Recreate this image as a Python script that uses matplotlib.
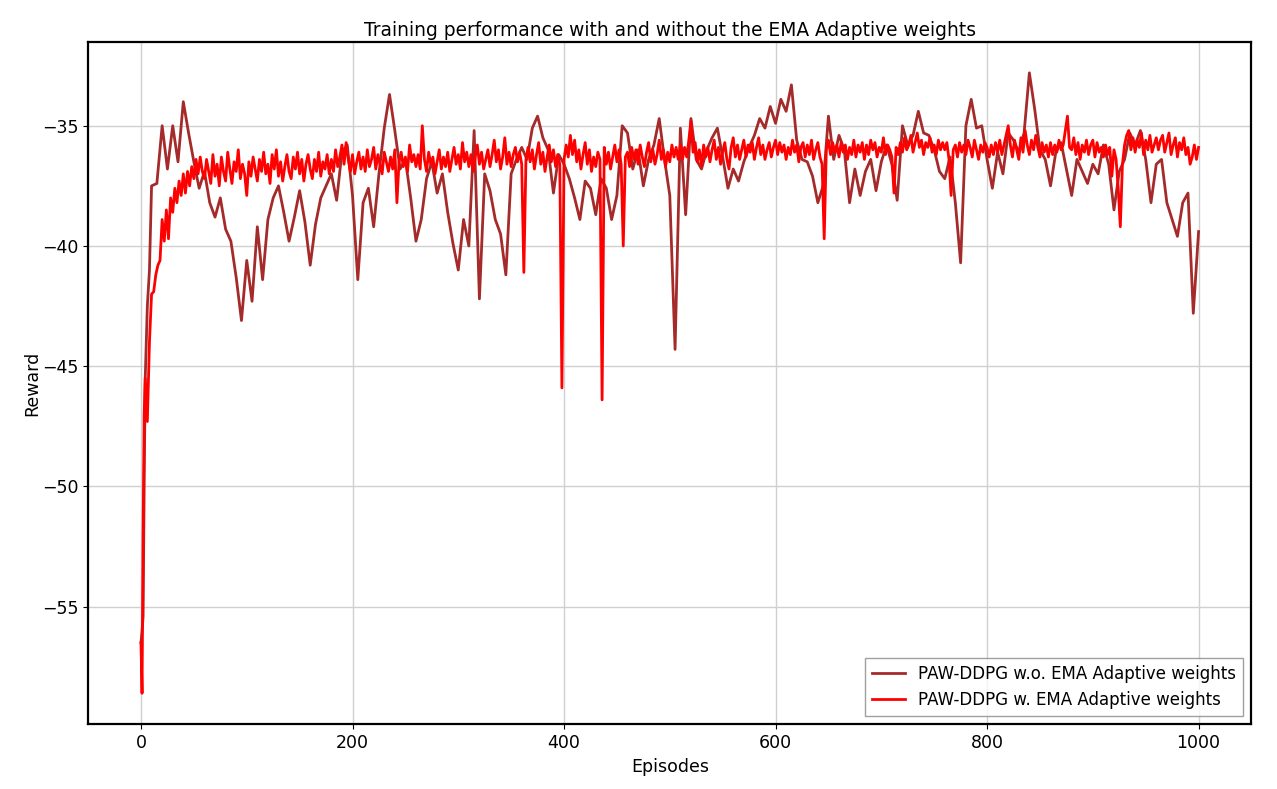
import numpy as np
import matplotlib
matplotlib.use('Agg')
import matplotlib.pyplot as plt

# 序盤は細かく、以降は一定刻み
episodes_start = [0, 1, 2, 3, 4, 6, 8]
episodes_wo_rest = list(range(10, 1001, 5))
episodes_w_rest = list(range(10, 1001, 2))

# EMAなし
reward_wo_start = [-56.5, -56.0, -55.4, -50.0, -45.5, -42.5, -41.0]
reward_wo_rest = [
    -37.5, -37.4, -35.0, -36.8, -35.0, -36.5, -34.0, -35.3, -36.5, -37.6,
    -36.9, -38.2, -38.8, -38.0, -39.3, -39.8, -41.3, -43.1, -40.6, -42.3,
    -39.2, -41.4, -38.9, -38.0, -37.5, -38.6, -39.8, -38.8, -37.7, -39.0,
    -40.8, -39.1, -38.0, -37.5, -37.0, -38.1, -36.1, -35.8, -37.9, -41.4,
    -38.2, -37.6, -39.2, -37.0, -35.1, -33.7, -35.2, -36.8, -36.4, -38.0,
    -39.8, -38.9, -37.2, -36.5, -37.8, -37.0, -38.6, -39.9, -41.0, -38.9,
    -40.0, -35.2, -42.2, -37.0, -37.7, -38.9, -39.5, -41.2, -37.0, -36.4,
    -35.9, -36.4, -35.1, -34.6, -35.5, -36.0, -37.8, -36.2, -36.6, -37.2,
    -38.0, -38.9, -37.3, -37.6, -38.7, -37.2, -37.6, -38.9, -37.9, -35.0,
    -35.3, -36.8, -36.0, -37.5, -36.4, -35.8, -34.7, -36.4, -37.9, -44.3,
    -35.1, -38.7, -34.7, -36.4, -36.8, -36.0, -35.5, -35.1, -36.3, -37.6,
    -36.8, -37.3, -36.5, -35.9, -35.4, -34.7, -35.1, -34.2, -34.9, -33.9,
    -34.4, -33.3, -35.6, -36.4, -36.5, -37.1, -38.2, -37.5, -34.6, -36.4,
    -35.4, -36.0, -38.2, -36.8, -37.9, -36.9, -36.4, -37.7, -36.5, -35.8,
    -36.6, -38.1, -35.0, -35.8, -35.4, -34.4, -35.3, -35.4, -36.0, -36.9,
    -37.2, -36.3, -38.2, -40.7, -35.0, -33.9, -35.1, -35.0, -36.4, -37.6,
    -36.1, -37.0, -35.3, -35.6, -36.1, -35.3, -32.8, -34.3, -36.0, -36.4,
    -37.5, -36.1, -35.7, -36.8, -37.9, -36.4, -36.9, -37.4, -36.6, -37.0,
    -35.8, -36.6, -38.5, -36.9, -36.4, -35.3, -35.8, -35.2, -36.4, -38.2,
    -36.6, -36.4, -38.2, -38.9, -39.6, -38.2, -37.8, -42.8, -39.4,
]

# EMAあり
reward_w_start = [-56.5, -58.6, -52.0, -47.0, -45.5, -47.3, -44.0]
reward_w_rest = [
    # 10-58
    -42.0, -41.9, -41.2, -40.8, -40.6, -38.9, -39.8, -38.5, -39.7, -38.0,
    -38.6, -37.6, -38.2, -37.3, -37.9, -37.0, -37.8, -36.9, -37.5, -36.7,
    -37.2, -36.4, -37.0, -36.3, -36.9,
    # 60-108
    -37.2, -36.4, -36.9, -37.4, -36.2, -37.1, -36.6, -37.5, -36.3, -36.9,
    -37.3, -36.1, -36.8, -37.4, -36.5, -36.9, -36.0, -37.2, -36.6, -37.0,
    -37.9, -36.5, -37.1, -36.3, -36.8,
    # 110-158
    -37.3, -36.4, -36.9, -36.1, -37.0, -36.6, -37.4, -36.2, -36.8, -36.0,
    -37.1, -36.5, -37.3, -36.7, -36.2, -36.9, -37.2, -36.3, -36.8, -36.1,
    -37.0, -36.4, -37.3, -36.6, -36.2,
    # 160-208
    -36.8, -37.2, -36.4, -36.9, -36.1, -37.1, -36.5, -36.8, -36.2, -37.0,
    -36.4, -36.9, -36.0, -36.7, -36.3, -35.8, -36.6, -35.7, -36.4, -36.9,
    -36.2, -37.0, -36.5, -36.1, -36.8,
    # 210-258
    -36.3, -36.9, -36.0, -36.7, -36.4, -35.9, -36.8, -36.2, -36.6, -37.0,
    -36.1, -36.5, -36.9, -36.3, -36.8, -36.0, -38.2, -36.5, -36.1, -36.7,
    -36.3, -36.9, -35.8, -36.5, -36.2,
    # 260-308
    -36.7, -36.2, -36.8, -35.0, -36.4, -36.9, -36.1, -36.6, -36.3, -37.0,
    -36.5, -36.0, -36.8, -36.3, -36.7, -36.1, -36.9, -36.4, -35.9, -36.6,
    -36.2, -36.8, -35.7, -36.5, -36.1,
    # 310-358
    -36.7, -36.2, -36.9, -36.3, -35.8, -36.6, -36.1, -36.8, -36.4, -36.0,
    -36.7, -36.2, -35.6, -36.5, -36.0, -36.8, -36.3, -35.5, -36.6, -36.1,
    -36.7, -36.2, -35.9, -36.5, -36.1,
    # 360-408
    -36.6, -41.1, -36.4, -35.9, -36.5, -36.0, -36.8, -36.2, -35.7, -36.6,
    -36.1, -36.9, -36.3, -35.8, -36.5, -36.0, -36.7, -36.2, -36.6, -45.9,
    -36.4, -35.8, -36.3, -35.4, -36.2,
    # 410-458
    -35.6, -36.5, -36.0, -36.8, -36.2, -35.7, -36.6, -36.0, -36.9, -36.3,
    -36.7, -36.1, -36.4, -46.4, -35.9, -36.6, -36.1, -36.8, -36.3, -35.8,
    -36.5, -36.0, -36.6, -40.0, -36.3,
    # 460-508
    -36.1, -36.7, -35.9, -36.4, -36.0, -36.6, -35.8, -36.3, -36.7, -36.1,
    -35.7, -36.5, -36.0, -36.6, -36.2, -35.6, -36.4, -36.0, -36.7, -36.1,
    -36.5, -35.8, -36.3, -35.9, -36.4,
    # 510-558
    -35.8, -36.4, -35.9, -36.3, -35.6, -34.8, -36.1, -35.7, -36.5, -36.0,
    -36.7, -35.8, -36.3, -35.9, -36.5, -36.0, -35.6, -36.4, -35.9, -36.6,
    -36.1, -35.7, -36.4, -36.8, -35.9,
    # 560-608
    -35.5, -36.3, -35.8, -36.4, -36.0, -35.6, -36.3, -35.8, -36.1, -35.7,
    -36.4, -35.9, -35.5, -36.2, -35.8, -36.4, -36.0, -35.7, -36.3, -35.9,
    -35.6, -36.2, -35.7, -36.1, -35.8,
    # 610-658
    -36.4, -35.9, -36.2, -35.6, -36.1, -35.8, -36.5, -35.9, -35.7, -36.3,
    -35.8, -36.2, -35.6, -36.4, -36.0, -35.7, -36.3, -36.6, -39.7, -36.0,
    -35.6, -36.2, -35.7, -36.1, -35.8,
    # 660-708
    -36.3, -35.7, -36.1, -35.8, -36.4, -35.9, -36.2, -35.6, -36.3, -35.8,
    -36.1, -35.7, -36.4, -35.8, -36.2, -35.6, -36.0, -35.7, -36.3, -35.9,
    -36.1, -35.5, -36.2, -35.8, -36.0,
    # 710-758
    -36.3, -37.8, -35.9, -36.2, -35.7, -36.1, -35.5, -36.0, -35.8, -35.4,
    -36.1, -35.7, -35.3, -35.9, -35.6, -36.2, -35.7, -35.9, -35.5, -36.1,
    -35.8, -36.2, -35.6, -36.0, -35.7,
    # 760-808
    -36.0, -35.7, -36.4, -37.9, -36.0, -35.8, -36.3, -35.7, -36.1, -35.8,
    -36.2, -35.6, -35.9, -36.3, -35.6, -36.0, -36.4, -35.8, -36.1, -35.7,
    -35.9, -36.3, -35.8, -36.2, -35.7,
    # 810-858
    -36.1, -35.6, -36.2, -35.8, -35.4, -35.0, -35.8, -36.3, -35.6, -36.0,
    -36.4, -35.5, -36.1, -35.2, -35.8, -36.2, -35.6, -36.0, -35.4, -35.9,
    -36.3, -35.7, -36.1, -35.8, -36.3,
    # 860-908
    -35.7, -36.2, -35.8, -36.1, -35.6, -36.0, -35.8, -35.2, -34.6, -35.9,
    -36.0, -35.5, -36.2, -35.7, -36.4, -35.8, -36.1, -35.6, -36.2, -35.8,
    -35.6, -36.3, -35.7, -36.1, -35.9,
    # 910-958
    -36.3, -35.8, -36.2, -35.9, -37.1, -36.0, -36.4, -37.6, -39.2, -36.6,
    -35.8, -35.4, -35.2, -36.0, -35.5, -36.1, -35.6, -35.9, -35.3, -36.2,
    -35.6, -36.0, -35.4, -36.1, -35.8,
    # 960-1000
    -35.5, -36.0, -35.6, -35.4, -36.1, -35.7, -35.3, -36.2, -35.8, -35.5,
    -36.3, -35.7, -36.0, -35.5, -36.2, -35.9, -36.6, -36.3, -35.8, -36.4,
    -35.9,
]

episodes_wo = episodes_start + episodes_wo_rest
episodes_w = episodes_start + episodes_w_rest
reward_wo = reward_wo_start + reward_wo_rest
reward_w = reward_w_start + reward_w_rest
print(len(episodes_wo), len(reward_wo), len(episodes_w), len(reward_w))

fig = plt.figure(figsize=(12.77, 7.89), dpi=100)
ax = fig.add_axes([0.069, 0.082, 0.911, 0.865])

ax.plot(episodes_wo, reward_wo, color='brown', linewidth=2, label='PAW-DDPG w.o. EMA Adaptive weights')
ax.plot(episodes_w, reward_w, color='red', linewidth=2, label='PAW-DDPG w. EMA Adaptive weights')

ax.set_title('Training performance with and without the EMA Adaptive weights', fontsize=13.4, pad=4)
ax.set_xlabel('Episodes', fontsize=12.5)
ax.set_ylabel('Reward', fontsize=12.5, labelpad=0.5)
ax.tick_params(labelsize=12.5)
ax.grid(True, color='#d0d0d0', linewidth=1)
for s in ax.spines.values():
    s.set_linewidth(1.6)
    s.set_color('black')
ax.legend(loc='lower right', fontsize=12, fancybox=False, edgecolor='#888888')

fig.savefig('out.png', dpi=100)
